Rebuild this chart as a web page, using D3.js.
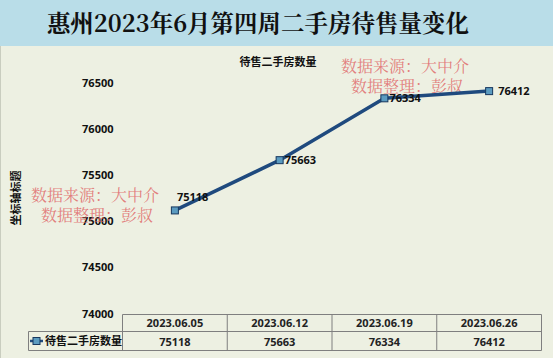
<!DOCTYPE html>
<html>
<head>
<meta charset="utf-8">
<script src="https://cdn.jsdelivr.net/npm/d3@7"></script>
<style>
  html, body { margin: 0; padding: 0; background: #ffffff; }
  svg { display: block; }
</style>
</head>
<body>
<div id="chart"></div>
<script>
// data
const categories = ["2023.06.05", "2023.06.12", "2023.06.19", "2023.06.26"]
const seriesName = "待售二手房数量"
const values = [75118, 75663, 76334, 76412]
const yTicks = [74000, 74500, 75000, 75500, 76000, 76500]
const title = "惠州2023年6月第四周二手房待售量变化"
const watermark = ["数据来源：大中介", "数据整理：彭叔"]

const width = 553
const height = 363
const cjk = "'Noto Sans CJK SC', 'Noto Sans', sans-serif"
const num = "'Open Sans', 'Noto Sans', sans-serif"
const lineColor = "#1f4a7e"

const svg = d3.select("#chart").append("svg")
    .attr("width", width)
    .attr("height", height)

// backgrounds
svg.append("rect").attr("x", 0).attr("y", 0).attr("width", width).attr("height", 358)
    .attr("fill", "#edf0e2")
svg.append("rect").attr("x", 0).attr("y", 0).attr("width", width).attr("height", 46)
    .attr("fill", "#b9dde8")
svg.append("line").attr("x1", 0.5).attr("x2", 0.5).attr("y1", 46).attr("y2", 358)
    .attr("stroke", "#c9cdbf")

svg.append("text")
    .attr("x", 258).attr("y", 32)
    .attr("text-anchor", "middle")
    .style("font-family", "'Noto Serif CJK SC', 'Noto Sans CJK SC', sans-serif")
    .style("font-weight", "bold").style("font-size", "23.5px")
    .attr("fill", "#111")
    .text(title)

// scales
const x = d3.scaleBand().domain(categories).range([122.5, 541.5]).padding(0)
const y = d3.scaleLinear().domain([74000, 76500]).range([313.5, 83])

// chart title
svg.append("text")
    .attr("x", 278).attr("y", 66)
    .attr("text-anchor", "middle")
    .style("font-family", cjk).style("font-weight", "bold").style("font-size", "11px")
    .attr("fill", "#111")
    .text(seriesName)

// y axis (labels only)
const yAxis = d3.axisLeft(y).tickValues(yTicks).tickSize(0).tickPadding(9).tickFormat(d3.format("d"))
const gy = svg.append("g").attr("transform", "translate(122.5,0)").call(yAxis)
gy.select(".domain").remove()
gy.selectAll("text")
    .style("font-family", num).style("font-weight", "bold").style("font-size", "11px")
    .attr("fill", "#111")

svg.append("text")
    .attr("transform", "translate(20,198) rotate(-90)")
    .attr("text-anchor", "middle")
    .style("font-family", cjk).style("font-weight", "bold").style("font-size", "11px")
    .attr("fill", "#111")
    .text("坐标轴标题")

// watermarks
const wm = svg.append("g")
    .style("font-family", "'Noto Serif CJK SC', 'Noto Sans CJK SC', serif")
    .style("font-size", "16px")
    .attr("fill", "#e06a6a")
    .attr("fill-opacity", 0.85)
;[[95, 201], [405, 72]].forEach(([cx, cy]) => {
    watermark.forEach((t, i) => {
        wm.append("text").attr("x", cx + (i ? 2 : 0)).attr("y", cy + i * 20)
            .attr("text-anchor", "middle").text(t)
    })
})

// line
const cx = d => x(d) + x.bandwidth() / 2
const line = d3.line().x((d, i) => cx(categories[i])).y(d => y(d))
svg.append("path")
    .datum(values)
    .attr("d", line)
    .attr("fill", "none")
    .attr("stroke", lineColor)
    .attr("stroke-width", 3.5)
    .attr("stroke-linejoin", "round")

svg.selectAll(".pt")
    .data(values)
    .join("rect")
    .attr("class", "pt")
    .attr("x", (d, i) => cx(categories[i]) - 3.5)
    .attr("y", d => y(d) - 3.5)
    .attr("width", 7).attr("height", 7)
    .attr("fill", "#5b9bc0")
    .attr("stroke", "#17375e")
    .attr("stroke-width", 1)

svg.selectAll(".lbl")
    .data(values)
    .join("text")
    .attr("class", "lbl")
    .attr("x", (d, i) => cx(categories[i]) + (i === 0 ? 2 : (i === 3 ? 9 : 5)))
    .attr("y", (d, i) => y(d) + (i === 0 ? -9 : 4))
    .style("font-family", num).style("font-weight", "bold").style("font-size", "11px")
    .attr("fill", "#111")
    .text(d => d)

// data table
const tTop = 314.5, tMid = 331.5, tBot = 350.5, legLeft = 28.5
const tbl = svg.append("g").attr("stroke", "#7f7f7f").attr("stroke-width", 1)
tbl.append("line").attr("x1", 122.5).attr("x2", 541.5).attr("y1", tTop).attr("y2", tTop)
tbl.append("line").attr("x1", legLeft).attr("x2", 541.5).attr("y1", tMid).attr("y2", tMid)
tbl.append("line").attr("x1", legLeft).attr("x2", 541.5).attr("y1", tBot).attr("y2", tBot)
tbl.append("line").attr("x1", legLeft).attr("x2", legLeft).attr("y1", tMid).attr("y2", tBot)
categories.concat([null]).forEach((c, i) => {
    const xx = c ? x(c) : x.range()[1]
    tbl.append("line").attr("x1", xx).attr("x2", xx).attr("y1", tTop).attr("y2", tBot)
})

svg.selectAll(".hd")
    .data(categories)
    .join("text")
    .attr("class", "hd")
    .attr("x", d => cx(d)).attr("y", 327)
    .attr("text-anchor", "middle")
    .style("font-family", num).style("font-weight", "bold").style("font-size", "11px")
    .attr("fill", "#222")
    .text(d => d)

svg.selectAll(".vl")
    .data(values)
    .join("text")
    .attr("class", "vl")
    .attr("x", (d, i) => cx(categories[i])).attr("y", 345.5)
    .attr("text-anchor", "middle")
    .style("font-family", num).style("font-weight", "bold").style("font-size", "11px")
    .attr("fill", "#222")
    .text(d => d)

// legend key in table
svg.append("line").attr("x1", 30).attr("x2", 43).attr("y1", 341).attr("y2", 341)
    .attr("stroke", lineColor).attr("stroke-width", 2.5)
svg.append("rect").attr("x", 33).attr("y", 337.5).attr("width", 7).attr("height", 7)
    .attr("fill", "#5b9bc0").attr("stroke", "#17375e")
svg.append("text")
    .attr("x", 45).attr("y", 345)
    .style("font-family", cjk).style("font-weight", "bold").style("font-size", "11px")
    .attr("fill", "#111")
    .text(seriesName)
</script>
</body>
</html>
